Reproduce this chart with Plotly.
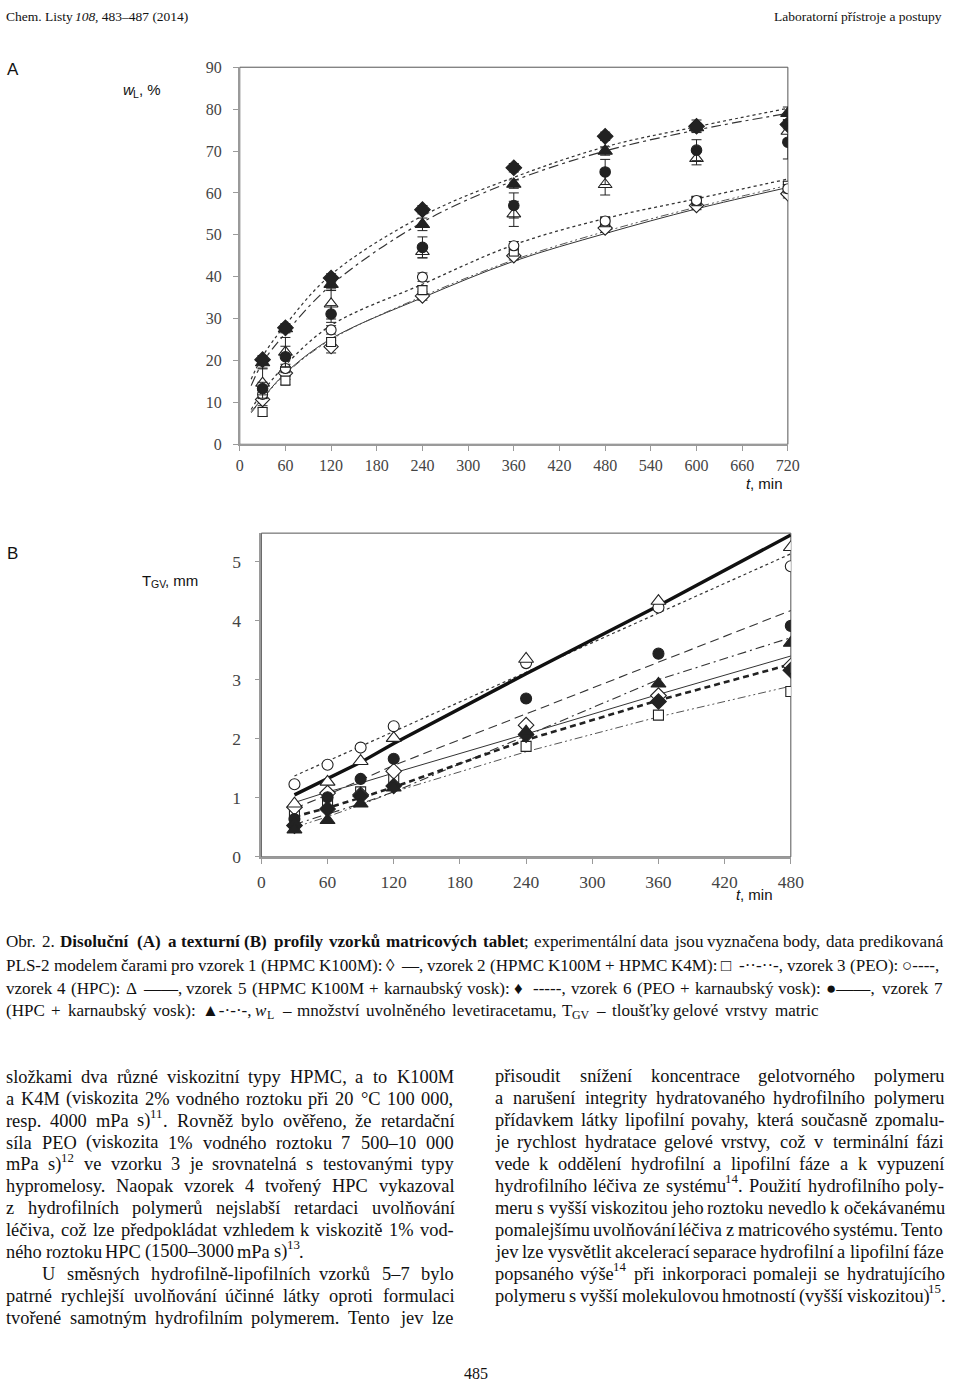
import re
import unicodedata
import plotly.graph_objects as go

W, H = 960, 1393

# ---------------- Chart A: dissolution profiles (w_L, %) ----------------
tA = [30, 60, 120, 240, 360, 480, 600, 720]
A_s1 = [10.7, 17.0, 23.3, 35.4, 45.0, 51.6, 57.0, 59.8]   # vzorek 1, open diamond
A_s2 = [7.7, 15.2, 24.4, 36.8, 46.0, 53.0, 58.0, 61.7]    # vzorek 2, open square
A_s3 = [11.9, 18.1, 27.3, 39.9, 47.4, 53.3, 58.2, 61.0]   # vzorek 3, open circle
A_s4 = [14.6, 22.0, 33.5, 46.0, 55.0, 62.0, 68.2, 74.7]   # vzorek 4, open triangle
A_s5 = [20.2, 27.8, 39.7, 56.0, 66.0, 73.5, 75.9, 76.3]   # vzorek 5, filled diamond
A_s6 = [13.3, 20.9, 31.1, 47.0, 57.0, 65.0, 70.2, 72.1]   # vzorek 6, filled circle
A_s7 = [19.5, 27.6, 38.2, 52.5, 62.1, 70.0, 75.6, 79.0]   # vzorek 7, filled triangle

A_e1 = [1.5, 1.5, 1.5, 1.0, 1.0, 1.0, 1.0, 1.0]
A_e2 = [1.0, 1.0, 1.0, 1.0, 1.0, 1.0, 1.0, 1.0]
A_e3 = [1.0, 1.0, 1.0, 1.0, 1.0, 1.0, 1.0, 1.0]
A_e4 = [3.6, 3.5, 3.6, 1.5, 3.0, 2.5, 1.5, 2.0]
A_e5 = [1.0, 1.0, 1.0, 1.0, 1.0, 1.0, 1.5, 1.0]
A_e6 = [1.5, 2.5, 2.0, 2.5, 3.0, 3.0, 2.5, 4.0]
A_e7 = [1.5, 1.0, 1.5, 1.5, 1.0, 1.0, 1.0, 1.5]

# PLS-2 predicted curves
tA_fit = [15, 30, 60, 120, 240, 360, 480, 600, 720]
A_fit5 = [15.5, 21.0, 28.5, 40.5, 54.5, 63.7, 71.0, 75.8, 80.2]
A_fit7 = [14.0, 19.5, 26.5, 38.0, 53.0, 62.9, 70.0, 75.0, 79.0]
A_fit3 = [8.3, 12.5, 18.9, 28.4, 38.2, 47.6, 53.9, 58.6, 63.3]
A_fit1 = [7.8, 11.0, 17.0, 25.2, 35.0, 43.7, 50.3, 56.2, 61.3]
A_fit2 = [7.5, 10.8, 16.8, 25.0, 35.3, 44.0, 50.8, 56.6, 61.8]

A_xticks = [0, 60, 120, 180, 240, 300, 360, 420, 480, 540, 600, 660, 720]
A_yticks = [0, 10, 20, 30, 40, 50, 60, 70, 80, 90]

# ---------------- Chart B: gel layer thickness (T_GV, mm) ----------------
tB = [30, 60, 90, 120, 240, 360, 480]
B_s1 = [0.84, 1.08, 1.05, 1.45, 2.23, 2.73, 3.23]
B_s2 = [0.70, 0.95, 1.10, 1.32, 1.87, 2.40, 2.80]
B_s3 = [1.23, 1.56, 1.85, 2.21, 3.28, 4.22, 4.92]
B_s4 = [0.90, 1.27, 1.62, 2.01, 3.35, 4.33, 5.24]
B_s5 = [0.53, 0.81, 1.03, 1.20, 2.07, 2.63, 3.16]
B_s6 = [0.64, 1.01, 1.32, 1.66, 2.68, 3.44, 3.91]
B_s7 = [0.46, 0.62, 0.90, 1.17, 2.12, 2.93, 3.62]

B_fit1 = [0.92, 1.10, 1.25, 1.42, 2.08, 2.75, 3.40]
B_fit2 = [0.50, 0.68, 0.88, 1.10, 1.78, 2.37, 2.89]
B_fit3 = [1.37, 1.62, 1.87, 2.12, 3.12, 4.13, 5.13]
B_fit4 = [1.05, 1.32, 1.60, 1.92, 3.10, 4.25, 5.45]
B_fit5 = [0.68, 0.83, 1.00, 1.18, 1.98, 2.65, 3.26]
B_fit6 = [0.82, 1.05, 1.30, 1.55, 2.42, 3.29, 4.17]
B_fit7 = [0.55, 0.72, 0.90, 1.10, 2.05, 3.00, 3.71]

B_xticks = [0, 60, 120, 180, 240, 300, 360, 420, 480]
B_yticks = [0, 1, 2, 3, 4, 5]

SERIF = "Liberation Serif, Times New Roman, serif"
SANS = "Liberation Sans, Arial, sans-serif"
INK = "#222222"

fig = go.Figure()

def add_line(x, y, xa, ya, dash, width, color="#333333", shape="linear"):
    fig.add_trace(go.Scatter(x=x, y=y, xaxis=xa, yaxis=ya, mode="lines",
                             line=dict(color=color, width=width, dash=dash, shape=shape),
                             hoverinfo="skip", showlegend=False))

def add_pts(x, y, xa, ya, symbol, filled, size, err=None):
    m = dict(symbol=symbol, size=size,
             color=INK if filled else "white",
             line=dict(color=INK, width=1.1))
    kw = {}
    if err is not None:
        kw["error_y"] = dict(type="data", array=err, visible=True, color=INK,
                             thickness=1, width=5)
    fig.add_trace(go.Scatter(x=x, y=y, xaxis=xa, yaxis=ya, mode="markers",
                             marker=m, showlegend=False, **kw))

DASHDOTDOT = "8px,3px,2px,3px,2px,3px"

# ---- chart A curves
add_line(tA_fit, A_fit5, "x", "y", "3px,3px", 1.2, shape="spline")
add_line(tA_fit, A_fit7, "x", "y", "10px,4px,3px,4px", 1.2, shape="spline")
add_line(tA_fit, A_fit3, "x", "y", "dot", 1.3, shape="spline")
add_line(tA_fit, A_fit1, "x", "y", "solid", 1.0, shape="spline")
add_line(tA_fit, A_fit2, "x", "y", DASHDOTDOT, 1.0, color="#555555", shape="spline")

# ---- chart A points
add_pts(tA, A_s1, "x", "y", "diamond", False, 11, A_e1)
add_pts(tA, A_s2, "x", "y", "square", False, 9, A_e2)
add_pts(tA, A_s3, "x", "y", "circle", False, 10, A_e3)
add_pts(tA, A_s4, "x", "y", "triangle-up", False, 12, A_e4)
add_pts(tA, A_s6, "x", "y", "circle", True, 10.5, A_e6)
add_pts(tA, A_s7, "x", "y", "triangle-up", True, 12.5, A_e7)
add_pts(tA, A_s5, "x", "y", "diamond", True, 12, A_e5)

# ---- chart B lines
add_line(tB, B_fit2, "x2", "y2", DASHDOTDOT, 1.0, color="#555555")
add_line(tB, B_fit7, "x2", "y2", "9px,4px,2px,4px", 1.1)
add_line(tB, B_fit5, "x2", "y2", "6px,4px", 2.6, color="#222222")
add_line(tB, B_fit1, "x2", "y2", "solid", 1.0)
add_line(tB, B_fit6, "x2", "y2", "9px,5px", 1.1)
add_line(tB, B_fit3, "x2", "y2", "dot", 1.2)
add_line(tB, B_fit4, "x2", "y2", "solid", 3.4, color="#111111")

# ---- chart B points
add_pts(tB, B_s2, "x2", "y2", "square", False, 10)
add_pts(tB, B_s1, "x2", "y2", "diamond", False, 12)
add_pts(tB, B_s3, "x2", "y2", "circle", False, 11)
add_pts(tB, B_s4, "x2", "y2", "triangle-up", False, 13)
add_pts(tB, B_s6, "x2", "y2", "circle", True, 11)
add_pts(tB, B_s5, "x2", "y2", "diamond", True, 12)
add_pts(tB, B_s7, "x2", "y2", "triangle-up", True, 13)

def px2x(px):
    return px / W

def px2y(py):
    return 1 - py / H

axis_common = dict(showgrid=False, zeroline=False, showline=True, linecolor="#9a9a9a",
                   linewidth=1.5, ticks="outside", tickcolor="#9a9a9a", ticklen=5,
                   tickwidth=1, fixedrange=True)

fig.update_layout(
    width=W, height=H, margin=dict(l=0, r=0, t=0, b=0),
    paper_bgcolor="white", plot_bgcolor="white", showlegend=False,
    xaxis=dict(domain=[px2x(240), px2x(798)], range=[0, 720], anchor="y",
               tickvals=A_xticks, ticktext=[str(v) for v in A_xticks],
               tickfont=dict(family=SERIF, size=16, color="#444444"),
               ticklabelstandoff=1, **axis_common),
    yaxis=dict(domain=[px2y(442), px2y(60)], range=[0, 90], anchor="x",
               tickvals=A_yticks, ticktext=[str(v) for v in A_yticks],
               tickfont=dict(family=SERIF, size=16, color="#444444"),
               ticklabelstandoff=8, **axis_common),
    xaxis2=dict(domain=[px2x(262), px2x(801)], range=[0, 480], anchor="y2",
                tickvals=B_xticks, ticktext=[str(v) for v in B_xticks],
                tickfont=dict(family=SERIF, size=17.5, color="#444444"),
                ticklabelstandoff=3, **axis_common),
    yaxis2=dict(domain=[px2y(860), px2y(532)], range=[0, 5.48], anchor="x2",
                tickvals=B_yticks, ticktext=[str(v) for v in B_yticks],
                tickfont=dict(family=SERIF, size=17.5, color="#444444"),
                ticklabelstandoff=10, **axis_common),
)

# frames (top/right borders of plot areas)
fig.add_shape(type="rect", xref="x domain", yref="y domain", x0=0, x1=1, y0=0, y1=1,
              line=dict(color="#555555", width=1), layer="below")
fig.add_shape(type="rect", xref="x2 domain", yref="y2 domain", x0=0, x1=1, y0=0, y1=1,
              line=dict(color="#555555", width=1), layer="below")

anns = []

def ann(text, x, y, size, family=SERIF, xanchor="left", color="#111111",
        weight="normal", style="normal"):
    anns.append(dict(text=text, x=px2x(x), y=px2y(y), xref="paper", yref="paper",
                     xanchor=xanchor, yanchor="middle", showarrow=False,
                     borderpad=0, borderwidth=0,
                     font=dict(family=family, size=round(size, 2), color=color,
                               weight=weight, style=style)))

# Times-compatible advance widths (1/1000 em)
WID = {" ": 250, "!": 333, "%": 833, "(": 333, ")": 333, "+": 564, ",": 250, "-": 333,
       ".": 250, "/": 278, ":": 278, ";": 278, "°": 400, "–": 500, "—": 1000, "·": 320,
       "◊": 600, "□": 800, "○": 800, "Δ": 700, "♦": 800, "●": 800, "▲": 850,
       "A": 722, "B": 667, "C": 667, "D": 722, "E": 611, "F": 556, "G": 722, "H": 722,
       "I": 333, "J": 389, "K": 722, "L": 611, "M": 889, "N": 722, "O": 722, "P": 556,
       "Q": 722, "R": 667, "S": 556, "T": 611, "U": 722, "V": 722, "W": 944, "X": 722,
       "Y": 722, "Z": 611,
       "a": 444, "b": 500, "c": 444, "d": 500, "e": 444, "f": 333, "g": 500, "h": 500,
       "i": 278, "j": 278, "k": 500, "l": 278, "m": 778, "n": 500, "o": 500, "p": 500,
       "q": 500, "r": 333, "s": 389, "t": 278, "u": 500, "v": 500, "w": 722, "x": 500,
       "y": 500, "z": 444}
# Arial-compatible widths for the few sans labels
WID_SANS = {" ": 278, ",": 278, "%": 889, "w": 722, "t": 278, "m": 833, "i": 222,
            "n": 556, "L": 556, "T": 611, "G": 778, "V": 667}

def char_w(c, sans=False):
    if sans and c in WID_SANS:
        return WID_SANS[c]
    if c in WID:
        return WID[c]
    if c.isdigit():
        return 556 if sans else 500
    base = unicodedata.normalize("NFD", c)[0]
    return WID.get(base, 500)

def parse_runs(markup):
    """Split simple markup (<b>, <i>, <sup>, <sub>) into runs of (text, bold, italic, level)."""
    runs = []
    bold = False
    italic = False
    level = 0
    for tk in re.split(r"(<[^>]+>)", markup):
        if not tk:
            continue
        if tk.startswith("<"):
            tag = tk.strip("<>/").lower()
            closing = tk.startswith("</")
            if tag == "b":
                bold = not closing
            elif tag == "i":
                italic = not closing
            elif tag == "sup":
                level = 0 if closing else 1
            elif tag == "sub":
                level = 0 if closing else -1
            continue
        runs.append((tk, bold, italic, level))
    return runs

def run_w(text, size, bold=False, sans=False):
    w = sum(char_w(c, sans) for c in text) * size / 1000.0
    return w * (1.1 if bold else 1.0)

def word_w(markup, size, sans=False):
    tot = 0.0
    for t, b, it, lv in parse_runs(markup):
        tot += run_w(t, size * (0.7 if lv else 1.0), b, sans)
    return tot

def rich(markup, x, y, size, family=SERIF, anchor="left"):
    sans = family == SANS
    if anchor == "right":
        x = x - word_w(markup, size, sans)
    for t, b, it, lv in parse_runs(markup):
        fs = size * (0.7 if lv else 1.0)
        dy = -0.38 * size if lv == 1 else (0.25 * size if lv == -1 else 0.0)
        ann(t, x, y + dy, fs, family=family, weight="bold" if b else "normal",
            style="italic" if it else "normal")
        x += run_w(t, fs, b, sans)

def natural_em(line):
    words = [w for w in line.split(" ") if w]
    return sum(word_w(w, 1.0) for w in words) + 0.25 * (len(words) - 1)

def text_line(line, x0, x1, y, size, justify=True):
    words = [w for w in line.split(" ") if w]
    ws = [word_w(w, size) for w in words]
    if justify and len(words) > 1:
        gap = (x1 - x0 - sum(ws)) / (len(words) - 1)
        gap = max(gap, size * 0.15)
    else:
        gap = size * 0.25
    x = x0
    for w, wd in zip(words, ws):
        rich(w, x, y, size)
        x += wd + gap

# header
rich("Chem. Listy <i>108</i>, 483–487 (2014)", 2, 9, 13.5)
ann("Laboratorní přístroje a postupy", 955, 9, 13.5, xanchor="right")

# chart labels
ann("A", 3, 62, 17, family=SANS)
rich("<i>w</i><sub>L</sub>, %", 121, 83, 15, family=SANS)
rich("<i>t</i>, min", 755, 482, 15, family=SANS)
ann("B", 3, 553, 17, family=SANS)
rich("T<sub>GV</sub>, mm", 140, 580, 15, family=SANS)
rich("<i>t</i>, min", 745, 898, 15, family=SANS)

# caption
cap_lines = [
    ("Obr. 2. <b>Disoluční</b> <b>(A)</b> <b>a</b> <b>texturní</b> <b>(B)</b> <b>profily</b> "
     "<b>vzorků</b> <b>matricových</b> <b>tablet</b>; experimentální data jsou vyznačena body, "
     "data predikovaná", True, 955),
    ("PLS-2 modelem čarami pro vzorek 1 (HPMC K100M): ◊ —, vzorek 2 (HPMC K100M + HPMC K4M): "
     "□ -··-··-, vzorek 3 (PEO): ○----,", True, 955),
    ("vzorek 4 (HPC): Δ ——, vzorek 5 (HPMC K100M + karnaubský vosk): ♦ -----, vzorek 6 "
     "(PEO + karnaubský vosk): ●——, vzorek 7", True, 955),
    ("(HPC + karnaubský vosk): ▲-·-·-, <i>w</i><sub>L</sub> – množství uvolněného levetiracetamu, "
     "T<sub>GV</sub> – tloušťky gelové vrstvy matric", True, 828),
]
fit = min((x1 - 4) / natural_em(ln) for ln, j, x1 in cap_lines)
CAP = min(18.0, 0.99 * fit)
cap_y = [946, 970, 993, 1016]
for (ln, just, x1), yy in zip(cap_lines, cap_y):
    text_line(ln, 2, x1, yy, CAP, justify=just)

# body text
BODY = 18.4
left_col = [
    ("složkami dva různé viskozitní typy HPMC, a to K100M", True, 2),
    ("a K4M (viskozita 2% vodného roztoku při 20 °C 100 000,", True, 2),
    ("resp. 4000 mPa s)<sup>11</sup>. Rovněž bylo ověřeno, že retardační", True, 2),
    ("síla PEO (viskozita 1% vodného roztoku 7 500–10 000", True, 2),
    ("mPa s)<sup>12</sup> ve vzorku 3 je srovnatelná s testovanými typy", True, 2),
    ("hypromelosy. Naopak vzorek 4 tvořený HPC vykazoval", True, 2),
    ("z hydrofilních polymerů nejslabší retardaci uvolňování", True, 2),
    ("léčiva, což lze předpokládat vzhledem k viskozitě 1% vod-", True, 2),
    ("ného roztoku HPC (1500–3000 mPa s)<sup>13</sup>.", False, 2),
    ("U směsných hydrofilně-lipofilních vzorků 5–7 bylo", True, 39),
    ("patrné rychlejší uvolňování účinné látky oproti formulaci", True, 2),
    ("tvořené samotným hydrofilním polymerem. Tento jev lze", True, 2),
]
right_col = [
    ("přisoudit snížení koncentrace gelotvorného polymeru", True),
    ("a narušení integrity hydratovaného hydrofilního polymeru", True),
    ("přídavkem látky lipofilní povahy, která současně zpomalu-", True),
    ("je rychlost hydratace gelové vrstvy, což v terminální fázi", True),
    ("vede k oddělení hydrofilní a lipofilní fáze a k vypuzení", True),
    ("hydrofilního léčiva ze systému<sup>14</sup>. Použití hydrofilního poly-", True),
    ("meru s vyšší viskozitou jeho roztoku nevedlo k očekávanému", True),
    ("pomalejšímu uvolňování léčiva z matricového systému. Tento", True),
    ("jev lze vysvětlit akcelerací separace hydrofilní a lipofilní fáze", True),
    ("popsaného výše<sup>14</sup> při inkorporaci pomaleji se hydratujícího", True),
    ("polymeru s vyšší molekulovou hmotností (vyšší viskozitou)<sup>15</sup>.", False),
]
for i, (ln, just, x0) in enumerate(left_col):
    text_line(ln, x0, 457, 1083 + 22.15 * i, BODY, justify=just)
for i, (ln, just) in enumerate(right_col):
    text_line(ln, 500, 956, 1082 + 22.3 * i, BODY, justify=just)

# page number
ann("485", 480, 1383, 16, xanchor="center")

fig.update_layout(annotations=anns)
fig.write_html("out.html")
